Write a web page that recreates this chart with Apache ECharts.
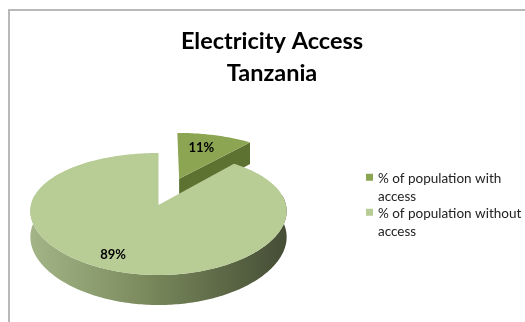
<!DOCTYPE html>
<html>
<head>
<meta charset="utf-8">
<script src="https://cdn.jsdelivr.net/npm/echarts@6/dist/echarts.min.js"></script>
<style>
  html, body { margin: 0; padding: 0; background: #fff; }
  #chart { width: 525px; height: 322px; }
</style>
</head>
<body>
<div id="chart"></div>
<script>
// Shares of the population, in percent
const categories = ['% of population with access', '% of population without access'];
const shares = [11, 89];

// Look of the tilted pie
const sliceTop  = ['#8ca553', '#b8cc96'];
const sliceCut  = ['#5d7231', '#6f8050'];
const explodeBy = [0.5, 0];          // how far each slice is pulled out, in radii
const labelNudge = [[-2, -2], [-8, -1]];

// Projection of the pie disc onto the canvas (slight perspective)
const CX = 158.5, CY = 205, RX = 127.5, RY = 59.67, DEPTH = 25.6;
const PERSP_Y = 0.1475, PERSP_X = 0.1;

function proj(px, pz, h) {
  const k = 1 / (1 - PERSP_Y * pz);
  const kx = 1 / (1 - PERSP_X * pz);
  return [CX + RX * px * kx, CY + RY * pz * k + h * DEPTH * k];
}
function rim(theta, off, r, h) {
  const t = theta * Math.PI / 180;
  return proj(off[0] + r * Math.sin(t), off[1] - r * Math.cos(t), h);
}
function arc(a0, a1, off, h) {
  const pts = [];
  const n = Math.max(2, Math.ceil((a1 - a0) / 1));
  for (let i = 0; i <= n; i++) pts.push(rim(a0 + (a1 - a0) * i / n, off, 1, h));
  return pts;
}

const total = shares.reduce((s, v) => s + v, 0);

function renderSlice(params, api) {
  const idx = params.seriesIndex;
  const value = api.value(0);
  let before = 0;
  for (let i = 0; i < idx; i++) before += shares[i];
  const a0 = before / total * 360;
  const a1 = (before + value) / total * 360;
  const mid = (a0 + a1) / 2 * Math.PI / 180;
  const e = explodeBy[idx];
  const off = [e * Math.sin(mid), -e * Math.cos(mid)];
  const children = [];

  // outer rim wall, front part only
  const f0 = Math.max(a0, 80), f1 = Math.min(a1, 280);
  if (f1 > f0) {
    const pts = arc(f0, f1, off, 0).concat(arc(f0, f1, off, 1).reverse());
    children.push({
      type: 'polygon',
      shape: { points: pts },
      style: {
        fill: new echarts.graphic.LinearGradient(0, 0, 1, 0, [
          { offset: 0, color: '#a3b587' },
          { offset: 0.45, color: '#7a8a5c' },
          { offset: 1, color: '#454d35' }
        ])
      }
    });
  }
  // radial cut faces that turn towards the viewer
  const apexTop = proj(off[0], off[1], 0), apexBot = proj(off[0], off[1], 1);
  if (Math.sin(a1 * Math.PI / 180) > 1e-6) {
    children.push({
      type: 'polygon',
      shape: { points: [apexTop, rim(a1, off, 1, 0), rim(a1, off, 1, 1), apexBot] },
      style: { fill: sliceCut[idx] }
    });
  }
  if (-Math.sin(a0 * Math.PI / 180) > 1e-6) {
    children.push({
      type: 'polygon',
      shape: { points: [apexTop, rim(a0, off, 1, 0), rim(a0, off, 1, 1), apexBot] },
      style: { fill: sliceCut[idx] }
    });
  }
  // top face
  children.push({
    type: 'polygon',
    shape: { points: [apexTop].concat(arc(a0, a1, off, 0)) },
    style: { fill: sliceTop[idx] }
  });
  // value label
  const lp = rim((a0 + a1) / 2, off, idx === 0 ? 0.65 : 0.8, 0);
  children.push({
    type: 'text',
    style: {
      text: value + '%',
      x: lp[0] + labelNudge[idx][0],
      y: lp[1] + labelNudge[idx][1],
      align: 'center',
      verticalAlign: 'middle',
      font: 'bold 13px Lato',
      fill: '#000'
    }
  });
  return { type: 'group', children: children };
}

const chart = echarts.init(document.getElementById('chart'), null, { renderer: 'canvas' });
chart.setOption({
  animation: false,
  backgroundColor: '#fff',
  title: {
    text: 'Electricity Access\nTanzania',
    left: 272,
    top: 25,
    padding: 0,
    textAlign: 'center',
    textStyle: {
      fontFamily: 'Lato',
      fontWeight: 'bold',
      fontSize: 23.5,
      lineHeight: 32,
      color: '#000'
    }
  },
  legend: {
    orient: 'vertical',
    left: 366,
    top: 170,
    padding: 0,
    itemGap: 0,
    itemWidth: 7,
    itemHeight: 34,
    selectedMode: false,
    icon: 'path://M0,0h0.01v0.01z M0,3.25h7v7h-7z M0,34h0.01v0.01z',
    formatter: name => name.replace(/ (access)$/, '\n$1'),
    textStyle: { fontFamily: 'Lato', fontSize: 13.5, lineHeight: 17.5, color: '#222' },
    data: categories
  },
  graphic: [{
    type: 'rect',
    shape: { x: 9, y: 10, width: 600, height: 400 },
    style: { fill: 'none', stroke: '#b9b9b9', lineWidth: 2 },
    silent: true,
    z: -1
  }],
  series: categories.map((name, i) => ({
    type: 'custom',
    name: name,
    coordinateSystem: 'none',
    renderItem: renderSlice,
    itemStyle: { color: sliceTop[i] },
    silent: true,
    data: [[shares[i]]]
  }))
});
</script>
</body>
</html>
